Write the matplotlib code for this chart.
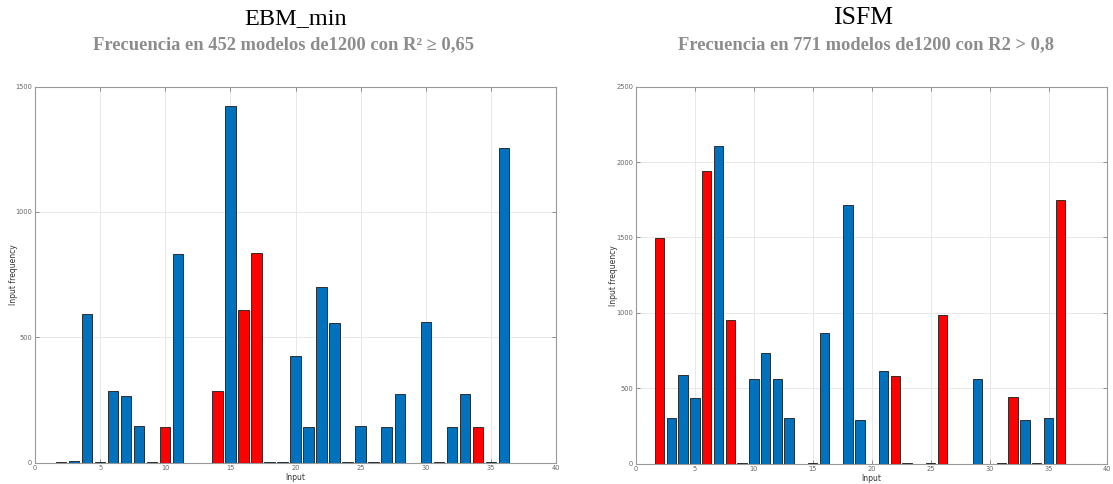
import matplotlib.pyplot as plt

# input index 1..36
inputs = list(range(1, 37))

# EBM_min input frequencies
ebm_freq = [0, 2, 5, 592, 2, 287, 267, 146, 4, 142, 832, 0,
            0, 287, 1421, 609, 836, 2, 2, 425, 142, 699, 557, 2,
            146, 2, 142, 273, 0, 561, 3, 142, 273, 142, 2, 1254]
ebm_red = [10, 14, 16, 17, 34]

# ISFM input frequencies
isfm_freq = [0, 1495, 303, 588, 433, 1939, 2104, 953, 4, 561, 734, 561,
             301, 0, 4, 864, 0, 1717, 287, 0, 614, 579, 5, 0,
             3, 988, 0, 0, 559, 0, 3, 442, 290, 3, 301, 1748]
isfm_red = [2, 6, 8, 22, 26, 32, 36]

ebm_title = "EBM_min"
ebm_sub = "Frecuencia en 452 modelos de1200 con R\u00b2 \u2265 0,65"
isfm_title = "ISFM"
isfm_sub = "Frecuencia en 771 modelos de1200 con R2 > 0,8"

BLUE = '#0072BD'
RED = '#FF0000'


def draw_panel(ax, freq, red, ymax, yticks, ylab_x):
    colors = [RED if i in red else BLUE for i in inputs]
    ax.bar(inputs, freq, width=0.8, color=colors, edgecolor='#1a1a1a',
           linewidth=0.6, zorder=3)
    ax.set_xlim(0, 40)
    ax.set_ylim(0, ymax)
    ax.set_xticks(range(0, 41, 5))
    ax.set_yticks(yticks)
    ax.grid(True, color='#e8e8e8', linewidth=0.7, zorder=0)
    ax.tick_params(labelsize=4.8, colors='#666666', direction='in', length=3,
                   width=0.5, top=True, right=True, pad=2)
    for s in ax.spines.values():
        s.set_color('#999999')
        s.set_linewidth(0.8)
    ax.set_xlabel('Input', fontsize=5.5, color='#333333', labelpad=1)
    ax.set_ylabel('Input frequency', fontsize=5.5, color='#333333')
    ax.yaxis.set_label_coords(ylab_x, 0.5)


fig = plt.figure(figsize=(11.13, 4.84), dpi=100)

ax1 = fig.add_axes([0.0314, 0.044, 0.4682, 0.777])
draw_panel(ax1, ebm_freq, ebm_red, 1500, [0, 500, 1000, 1500], -0.033)

ax2 = fig.add_axes([0.5714, 0.042, 0.4236, 0.779])
draw_panel(ax2, isfm_freq, isfm_red, 2500, [0, 500, 1000, 1500, 2000, 2500], -0.038)

serif = ['Liberation Serif', 'DejaVu Serif']
fig.text(0.266, 0.962, ebm_title, ha='center', va='center', fontsize=17.5,
         family=serif, color='black')
fig.text(0.255, 0.907, ebm_sub, ha='center', va='center', fontsize=13.3,
         family=serif, weight='bold', color='#8c8c8c')
fig.text(0.775, 0.962, isfm_title, ha='center', va='center', fontsize=18.5,
         family=serif, color='black')
fig.text(0.778, 0.907, isfm_sub, ha='center', va='center', fontsize=13.3,
         family=serif, weight='bold', color='#8c8c8c')

fig.savefig('out.png', dpi=100)
